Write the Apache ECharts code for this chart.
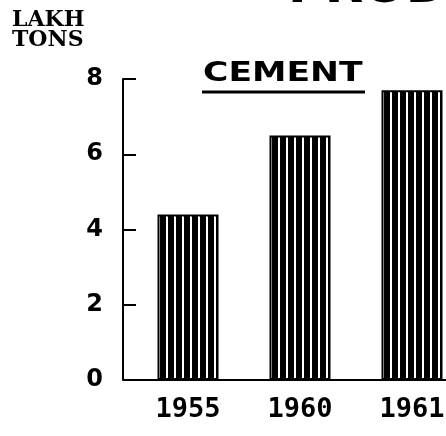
<!DOCTYPE html>
<html>
<head>
<meta charset="utf-8">
<title>Cement production</title>
<script src="https://cdn.jsdelivr.net/npm/echarts@6/dist/echarts.min.js"></script>
<style>
  html, body { margin: 0; padding: 0; background: #fff; }
  #chart { width: 446px; height: 436px; }
</style>
</head>
<body>
<div id="chart"></div>
<script>
// data (lakh tons)
const years = ["1955", "1960", "1961"];
const cement = [4.4, 6.5, 7.7];
const yTicks = [0, 2, 4, 6, 8];

// black bar with thin white vertical stripes
function stripePattern() {
  const c = document.createElement("canvas");
  c.width = 8;
  c.height = 8;
  const ctx = c.getContext("2d");
  ctx.fillStyle = "#000";
  ctx.fillRect(0, 0, 8, 8);
  ctx.fillStyle = "#fff";
  ctx.fillRect(6, 0, 2, 8);
  return c;
}

const chart = echarts.init(document.getElementById("chart"));

const option = {
  backgroundColor: "#fff",
  animation: false,
  grid: {
    left: 132,
    width: 336, // 3 categories of 112px, the last one runs off the edge
    top: 79,
    bottom: 56,
    outerBoundsMode: "none", // let the grid go past the right edge
  },
  graphic: [
    {
      // big heading, cut off by the top edge
      type: "text",
      left: 288,
      top: -36,
      style: {
        text: "PRODUCTION",
        font: "bold 50px 'DejaVu Sans'",
        fill: "#000",
      },
    },
    {
      type: "text",
      left: 12,
      top: 9,
      style: {
        text: "LAKH\nTONS",
        font: "bold 22px 'DejaVu Serif'",
        lineHeight: 20,
        fill: "#000",
      },
    },
    {
      type: "text",
      x: 203,
      y: 61,
      scaleX: 1.33,
      style: {
        text: "CEMENT",
        font: "bold 26px 'DejaVu Sans'",
        fill: "#000",
      },
    },
    {
      type: "line",
      shape: { x1: 202, y1: 92, x2: 365, y2: 92 },
      style: { stroke: "#000", lineWidth: 3 },
    },
  ],
  xAxis: {
    type: "category",
    data: years,
    axisLine: { lineStyle: { color: "#000", width: 2 } },
    axisTick: { show: false },
    axisLabel: {
      color: "#000",
      fontFamily: "DejaVu Sans Mono",
      fontWeight: "bold",
      fontSize: 27,
      margin: 16,
    },
  },
  yAxis: {
    type: "value",
    min: yTicks[0],
    max: yTicks[yTicks.length - 1],
    interval: 2,
    offset: 9,
    axisLine: { show: true, lineStyle: { color: "#000", width: 2 } },
    axisTick: {
      show: true,
      inside: true,
      length: 13,
      lineStyle: { color: "#000", width: 2 },
    },
    splitLine: { show: false },
    axisLabel: {
      color: "#000",
      fontFamily: "DejaVu Sans",
      fontWeight: "bold",
      fontSize: 24,
      margin: 20,
    },
  },
  series: [
    {
      name: "Cement",
      type: "bar",
      data: cement,
      barWidth: 61,
      itemStyle: {
        color: { image: stripePattern(), repeat: "repeat" },
        borderColor: "#000",
        borderWidth: 2,
      },
    },
  ],
};

chart.setOption(option);
</script>
</body>
</html>
